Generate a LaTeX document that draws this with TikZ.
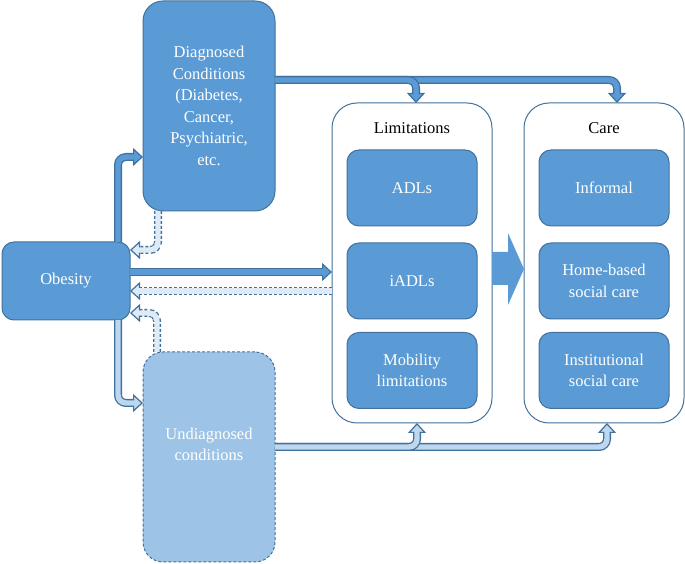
\documentclass[tikz,border=0pt]{standalone}
\usepackage{fontspec}
\setmainfont{Liberation Serif}
\usetikzlibrary{arrows.meta}
\definecolor{BOBlue}{HTML}{5B9BD5}
\definecolor{BOEdge}{HTML}{41719C}
\definecolor{BOLight}{HTML}{9DC3E6}
\definecolor{BOPale}{HTML}{BDD7EE}
\definecolor{BOMist}{HTML}{DEEBF7}
\newcommand\diagfont{\fontsize{16.5}{21.5}\selectfont}
\tikzset{
  box/.style={draw=BOEdge, fill=BOBlue, text=white, line width=1pt, rounded corners=12pt,
    align=center, font=\diagfont, inner sep=0pt, outer sep=0pt, minimum width=130pt, minimum height=76pt},
  tallbox/.style={box, rounded corners=20pt, minimum width=132pt, minimum height=210pt},
  panel/.style={draw=BOEdge, fill=white, line width=1pt, rounded corners=25pt,
    minimum width=160pt, minimum height=320pt, inner sep=0pt, outer sep=0pt},
  title/.style={font=\diagfont},
  arrowbody/.style={line width=8pt, rounded corners=8pt,
    -{Triangle[length=10pt,width=18pt,line width=1.2pt,fill=#1]},
    postaction={draw=#1, solid, -, line width=5.4pt, shorten >=7pt}},
  flowdark/.style={draw=BOEdge, arrowbody=BOBlue},
  flowlight/.style={draw=BOEdge, arrowbody=BOPale},
  flowback/.style={draw=BOEdge, dash pattern=on 3pt off 2pt, arrowbody=BOMist},
}
\begin{document}
\begin{tikzpicture}[x=1pt,y=1pt]
\path[use as bounding box] (0,0) rectangle (685,564);
% panels
\node[panel] (lim) at (412,301) {};
\node[panel] (care) at (604,301) {};
\node[title] (limT) at (412,436) {Limitations};
\node[title] (careT) at (604,436) {Care};
\node[box] (adl) at (412,376) {ADLs};
\node[box] (iadl) at (412,283) {iADLs};
\node[box] (mob) at (412,193.5) {Mobility\\limitations};
\node[box] (inf) at (604,376) {Informal};
\node[box] (home) at (604,283) {Home-based\\social care};
\node[box] (inst) at (604,193.5) {Institutional\\social care};
% left column
\node[box, minimum width=128pt, minimum height=78pt] (obes) at (66,283) {Obesity};
\node[tallbox] (diag) at (209,458) {Diagnosed\\Conditions\\(Diabetes,\\Cancer,\\Psychiatric,\\etc.};
\node[tallbox, fill=BOLight, dash pattern=on 3pt off 2pt, text depth=25pt] (undiag) at (209,107) {Undiagnosed\\conditions};
% limitations lead to care
\fill[BOBlue] ([yshift=11pt]lim.east) -- ++(16,0) -- ++(0,19) -- ([yshift=-6pt]care.west)
  -- ++(-16,-36) -- ++(0,20) -- ([yshift=-22pt]lim.east) -- cycle;
% connectors
\coordinate (obesHi) at ([yshift=9pt]obes.east);
\coordinate (obesLo) at ([yshift=-10pt]obes.east);
\draw[flowdark] ([yshift=26pt]diag.east) -| ([xshift=13pt]care.north);
\draw[flowdark] ([yshift=26pt]diag.east) -| ([xshift=4pt]lim.north);
\draw[flowdark] ([xshift=-12pt]obes.north east) |- ([yshift=-51pt]diag.west);
\draw[flowback] ([xshift=15pt]diag.south west) |- ([yshift=31pt]obes.east);
\draw[flowdark] (obesHi) -- (obesHi -| lim.west);
\draw[flowback] (obesLo -| lim.west) -- (obesLo);
\draw[flowback] ([xshift=14pt]undiag.north west) |- ([yshift=-32pt]obes.east);
\draw[flowlight] ([xshift=-12pt]obes.south east) |- ([yshift=54pt]undiag.west);
\draw[flowlight] ([yshift=10pt]undiag.east) -| ([xshift=3pt]care.south);
\draw[flowlight] ([yshift=10pt]undiag.east) -| ([xshift=5pt]lim.south);
\end{tikzpicture}
\end{document}
